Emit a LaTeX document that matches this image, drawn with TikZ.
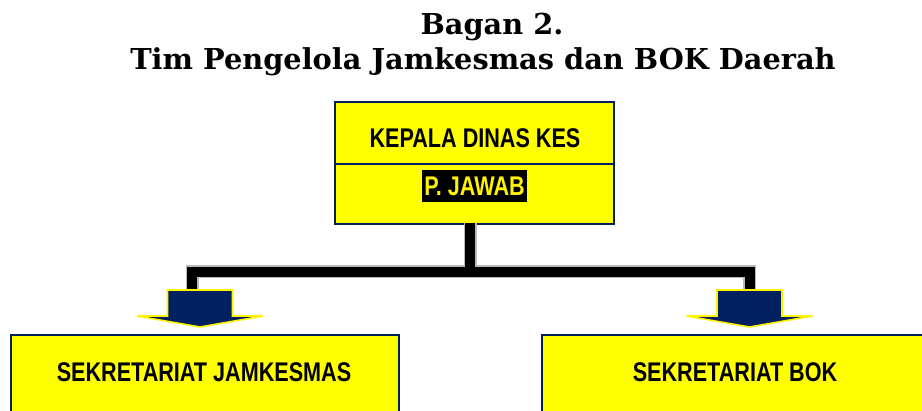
\documentclass[tikz,border=0pt]{standalone}
\usepackage{fontspec}
\setmainfont{DejaVu Serif}
\newfontfamily\boxfont[FakeStretch=0.80]{Liberation Sans}
\usetikzlibrary{calc}
\definecolor{navy}{HTML}{002060}
\definecolor{boxyellow}{HTML}{FFFF00}
\tikzset{
  orgbox/.style={draw=navy, line width=1.6pt, fill=boxyellow, inner sep=0pt},
  boxtext/.style={font=\boxfont\bfseries\fontsize{27}{30}\selectfont, inner sep=0pt},
  titletext/.style={font=\bfseries\fontsize{28.8}{32}\selectfont, inner sep=0pt},
  connshadow/.style={line width=13pt, gray!55, line join=miter},
  connline/.style={line width=10pt, black, line join=miter},
  downarrow/.style={fill=navy, draw=yellow, line width=1.6pt, line join=miter}
}
\begin{document}
\begin{tikzpicture}[x=1pt,y=-1pt]
\clip (0,0) rectangle (922,411);
\path[use as bounding box] (0,0) rectangle (922,411);

% title
\node[titletext] (t1) at (492,27) {Bagan 2.};
\node[titletext] (t2) at (483,62) {Tim Pengelola Jamkesmas dan BOK Daerah};

% top box
\node[orgbox, anchor=north west, minimum width=279pt, minimum height=62pt] (kep) at (334,101) {};
\node[orgbox, anchor=north west, minimum width=279pt, minimum height=60pt] (jaw) at (334,163) {};
\node[boxtext] (kept) at (475,138) {KEPALA DINAS KES};
\node[boxtext, fill=black, text=yellow, inner xsep=2pt, minimum height=32pt] (jawt) at (474.5,186) {P. JAWAB};

% bottom boxes
\node[orgbox, anchor=north west, minimum width=388pt, minimum height=90pt] (sj) at (10,334) {};
\node[orgbox, anchor=north west, minimum width=400pt, minimum height=90pt] (sb) at (541,334) {};
\node[boxtext] (sjt) at (204,372) {SEKRETARIAT JAMKESMAS};
\node[boxtext] (sbt) at (735,372) {SEKRETARIAT BOK};

% connector coordinates
\coordinate (stemtop) at (470,223);
\coordinate (junc) at (470,272);
\coordinate (lj) at (192,272);
\coordinate (rj) at (749.5,272);
\coordinate (la) at (200,290);
\coordinate (ra) at (749.5,290);

\draw[connshadow] (stemtop) -- (junc);
\draw[connshadow] (lj |- la) -- (lj) -- (rj) -- (ra);
\draw[connline] (stemtop) -- (junc);
\draw[connline] ($(lj |- la)+(0,1)$) -- (lj) -- (rj) -- ($(ra)+(0,1)$);

% arrows
\foreach \c in {la,ra}{
  \draw[downarrow] ($(\c)+(-32.5,0)$) -- ($(\c)+(32.5,0)$) -- ($(\c)+(32.5,26)$)
    -- ($(\c)+(63,26)$) -- ($(\c)+(0,37)$) -- ($(\c)+(-63,26)$)
    -- ($(\c)+(-32.5,26)$) -- cycle;
}
\end{tikzpicture}
\end{document}
